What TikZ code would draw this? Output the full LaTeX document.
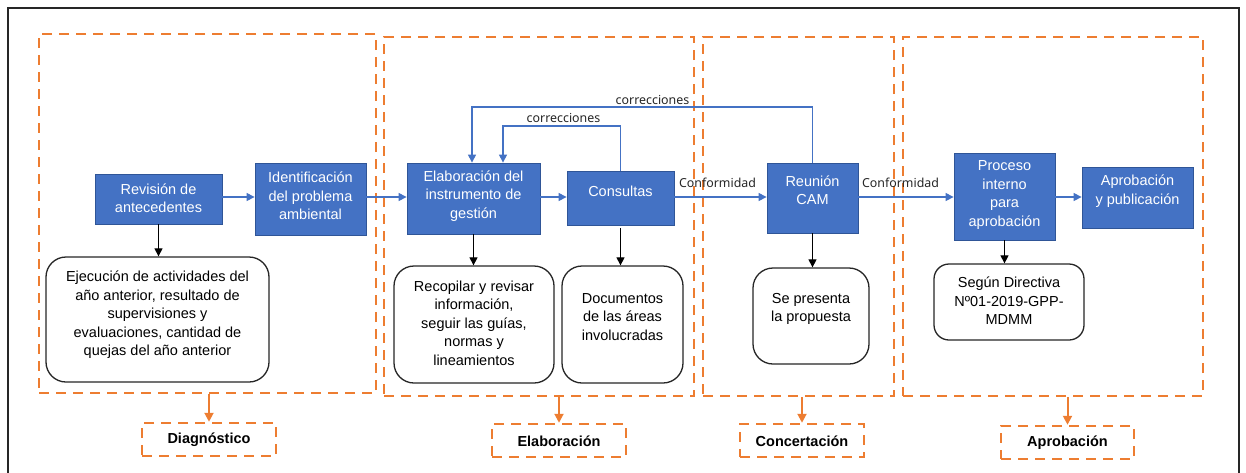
\documentclass[tikz,border=0pt]{standalone}
\usepackage{fontspec}
\setmainfont{Liberation Sans}
\newfontfamily\lblfont{Noto Sans}
\usetikzlibrary{arrows.meta,fit}
\definecolor{bxblue}{HTML}{4472C4}
\definecolor{bxedge}{HTML}{2F5597}
\definecolor{orng}{HTML}{ED7D31}
\begin{document}
\begin{tikzpicture}[x=1pt,y=-1pt,
  txt/.style={font=\fontsize{14.5}{18.5}\selectfont, align=center, inner sep=0pt},
  bluebox/.style={draw=bxedge, fill=bxblue, line width=0.8pt, inner sep=0pt},
  wtxt/.style={txt, text=white},
  rbox/.style={draw=black!85, line width=1.3pt, rounded corners=20pt, fill=white, inner sep=0pt},
  phase/.style={draw=orng, line width=2.5pt, dash pattern=on 10pt off 7pt, inner sep=0pt},
  plabel/.style={font=\bfseries\fontsize{14.5}{17}\selectfont, inner sep=0pt},
  blueflow/.style={draw=bxblue, line width=1.1pt, -{Triangle[length=8pt,width=8pt]}},
  downarr/.style={draw=black, line width=1.2pt, -{Triangle[length=8pt,width=8pt]}},
  orarr/.style={draw=orng, line width=2pt, -{Triangle[length=9pt,width=9pt]}},
  small/.style={font=\lblfont\fontsize{12.4}{14}\selectfont, inner sep=0pt, text=black!85},
]
\useasboundingbox (0,0) rectangle (1246,472);
% frame
\draw[line width=2pt, black!85] (8,474) -- (8,8) -- (1239,8) -- (1239,474);

% phase boxes
\node[phase, fit={(39,34) (376,393)}] (pdiag) {};
\node[phase, fit={(384,37) (694,396)}] (pelab) {};
\node[phase, fit={(703,37) (894,396)}] (pconc) {};
\node[phase, fit={(903,37) (1203,396)}] (papro) {};

% phase labels
\node[phase, fit={(142,423) (276,456)}] (ldiag) {};
\node[plabel] (ldiagt) at (209,440) {Diagnóstico};
\node[phase, fit={(492,424) (626,457)}] (lelab) {};
\node[plabel] (lelabt) at (559,441) {Elaboración};
\node[phase, fit={(740,424) (864,457)}] (lconc) {};
\node[plabel] (lconct) at (802,441) {Concertación};
\node[phase, fit={(1001,426) (1134,459)}] (lapro) {};
\node[plabel] (laprot) at (1067.5,443) {Aprobación};

\draw[orarr] (ldiag.north |- pdiag.south) -- (ldiag.north);
\draw[orarr] (lelab.north |- pelab.south) -- (lelab.north);
\draw[orarr] (lconc.north |- pconc.south) -- (lconc.north);
\draw[orarr] (lapro.north |- papro.south) -- (lapro.north);

% blue boxes
\node[bluebox, fit={(95,174) (222,224)}] (rev) {};
\node[wtxt] (revt) at (158.5,198) {Revisión de\\antecedentes};
\node[bluebox, fit={(255,163) (366,235)}] (ident) {};
\node[wtxt] (identt) at (310.5,196) {Identificación\\del problema\\ambiental};
\node[bluebox, fit={(407,163) (540,234)}] (elab) {};
\node[wtxt] (elabt) at (473.5,196) {Elaboración del\\instrumento de\\gestión};
\node[bluebox, fit={(567,171) (674,225)}] (cons) {};
\node[wtxt] (const) at (620.5,191) {Consultas};
\node[bluebox, fit={(767,163) (858,233)}] (reun) {};
\node[wtxt] (reunt) at (812.5,190) {Reunión\\CAM};
\node[bluebox, fit={(954,153) (1055,240)}] (proc) {};
\node[wtxt] (proct) at (1004.5,195) {Proceso\\interno\\para\\aprobación};
\node[bluebox, fit={(1082,167) (1193,228)}] (apro) {};
\node[wtxt] (aprot) at (1137.5,191) {Aprobación\\y publicación};

% rounded boxes
\node[rbox, fit={(46,257) (269,382)}] (ejec) {};
\node[txt] (eject) at (157.5,315) {Ejecución de actividades del\\año anterior, resultado de\\supervisiones y\\evaluaciones, cantidad de\\quejas del año anterior};
\node[rbox, fit={(394,266) (554,383)}] (recop) {};
\node[txt] (recopt) at (474,323) {Recopilar y revisar\\información,\\seguir las guías,\\normas y\\lineamientos};
\node[rbox, fit={(562,266) (683,383)}] (docs) {};
\node[txt] (docst) at (622.5,317) {Documentos\\de las áreas\\involucradas};
\node[rbox, fit={(753,268) (869,364)}] (pres) {};
\node[txt] (prest) at (811,309) {Se presenta\\la propuesta};
\node[rbox, rounded corners=15pt, fit={(934,264) (1084,340)}] (segun) {};
\node[txt] (segunt) at (1009,301) {Según Directiva\\Nº01-2019-GPP-\\MDMM};

% flow
\coordinate (fy) at (0,197);
\draw[blueflow] (rev.east |- fy) -- (ident.west |- fy);
\draw[blueflow] (ident.east |- fy) -- (elab.west |- fy);
\draw[blueflow] (elab.east |- fy) -- (cons.west |- fy);
\draw[blueflow] (cons.east |- fy) -- (reun.west |- fy);
\draw[blueflow] (reun.east |- fy) -- (proc.west |- fy);
\draw[blueflow] (proc.east |- fy) -- (apro.west |- fy);
\node[small] (conf1) at (717.5,183) {Conformidad};
\node[small] (conf2) at (900.5,183) {Conformidad};

% feedback
\coordinate (c1) at (503,126);
\coordinate (c2) at (472,107);
\draw[blueflow] (cons.north) |- (c1) -- (c1 |- elab.north);
\draw[blueflow] (reun.north) |- (c2) -- (c2 |- elab.north);
\node[small] (corr1) at (563.5,118) {correcciones};
\node[small] (corr2) at (652.5,100) {correcciones};

% down arrows
\draw[downarr] (rev.south) -- (rev.south |- ejec.north);
\draw[downarr] (elab.south) -- (elab.south |- recop.north);
\draw[downarr] ([yshift=-3pt]cons.south) -- (cons.south |- docs.north);
\draw[downarr] (reun.south) -- (reun.south |- pres.north);
\draw[downarr] (proc.south) -- (proc.south |- segun.north);
\end{tikzpicture}
\end{document}
